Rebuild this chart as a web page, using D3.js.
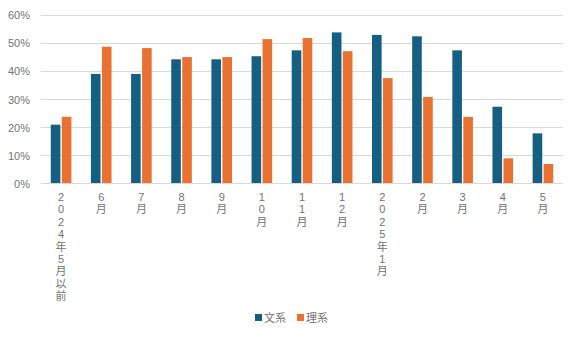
<!DOCTYPE html>
<html><head><meta charset="utf-8">
<script src="https://cdn.jsdelivr.net/npm/d3@7"></script>
<style>
html,body{margin:0;padding:0;background:#fff;}
svg text{font-family:"Liberation Sans","Noto Sans CJK JP",sans-serif;fill:#737373;}
</style></head>
<body><svg id="c" width="579" height="338"></svg>
<script>
const categories = ["2024年5月以前","6月","7月","8月","9月","10月","11月","12月","2025年1月","2月","3月","4月","5月"];
const bunkei = [20.9, 39.0, 39.0, 44.2, 44.2, 45.3, 47.4, 53.8, 52.9, 52.4, 47.4, 27.3, 17.8];
const rikei  = [23.7, 48.7, 48.2, 45.0, 45.0, 51.4, 51.8, 47.1, 37.5, 30.8, 23.7, 8.9, 6.9];
const seriesNames = ["文系","理系"];
const colors = ["#156082","#E97132"];
const yTicks = [0,10,20,30,40,50,60];

const svg = d3.select("#c");
const pL = 41, pR = 563, pT = 15, pB = 183.3;
const x = d3.scaleBand().domain(categories).range([pL,pR]).paddingInner(0).paddingOuter(0);
const y = d3.scaleLinear().domain([0,60]).range([pB,pT]);

// gridlines
svg.append("g").selectAll("line").data(yTicks).join("line")
  .attr("x1",pL).attr("x2",pR)
  .attr("y1",d=>Math.round(y(d))+0.5).attr("y2",d=>Math.round(y(d))+0.5)
  .attr("stroke","#d9d9d9").attr("stroke-width",1);

// y axis labels
const yAxis = d3.axisLeft(y).tickValues(yTicks).tickFormat(d=>d+"%").tickSize(0).tickPadding(0);
const yg = svg.append("g").attr("transform",`translate(30,0)`).call(yAxis);
yg.select(".domain").remove();
yg.selectAll("text").attr("font-size",11).attr("fill","#737373").attr("dy","0.35em")
  .style("font-family",'"Liberation Sans","Noto Sans CJK JP",sans-serif');

// bars
const data = categories.map((c,i)=>({c, v:[bunkei[i], rikei[i]]}));
const barW = 9, gap = 2.6;
const xs = d3.scaleBand().domain([0,1]).range([0, 2*barW+gap]).paddingInner(gap/(2*barW+gap));
const groups = svg.append("g").selectAll("g").data(data).join("g")
  .attr("transform",d=>`translate(${x(d.c)+x.bandwidth()/2-(2*barW+gap)/2},0)`);
groups.selectAll("rect").data(d=>d.v.map((v,k)=>({v,k}))).join("rect")
  .attr("x",d=>xs(d.k)).attr("width",xs.bandwidth())
  .attr("y",d=>y(d.v)).attr("height",d=>y(0)-y(d.v))
  .attr("fill",d=>colors[d.k]);

// baseline
svg.append("line").attr("x1",pL).attr("x2",pR).attr("y1",183.5).attr("y2",183.5)
  .attr("stroke","#d9d9d9").attr("stroke-width",1);

// x labels, vertical stacked characters
const xl = svg.append("g");
categories.forEach(c=>{
  const cx = x(c)+x.bandwidth()/2;
  const t = xl.append("text").attr("text-anchor","middle").attr("font-size",11);
  Array.from(c).forEach((ch,i)=>{
    t.append("tspan").attr("x",cx).attr("y",201+i*12.4).text(ch);
  });
});

// legend
const lg = svg.append("g");
const legX = [255, 297];
seriesNames.forEach((n,i)=>{
  lg.append("rect").attr("x",legX[i]).attr("y",314).attr("width",7).attr("height",7).attr("fill",colors[i]);
  lg.append("text").attr("x",legX[i]+9).attr("y",321.5).attr("font-size",11).text(n);
});
</script></body></html>
